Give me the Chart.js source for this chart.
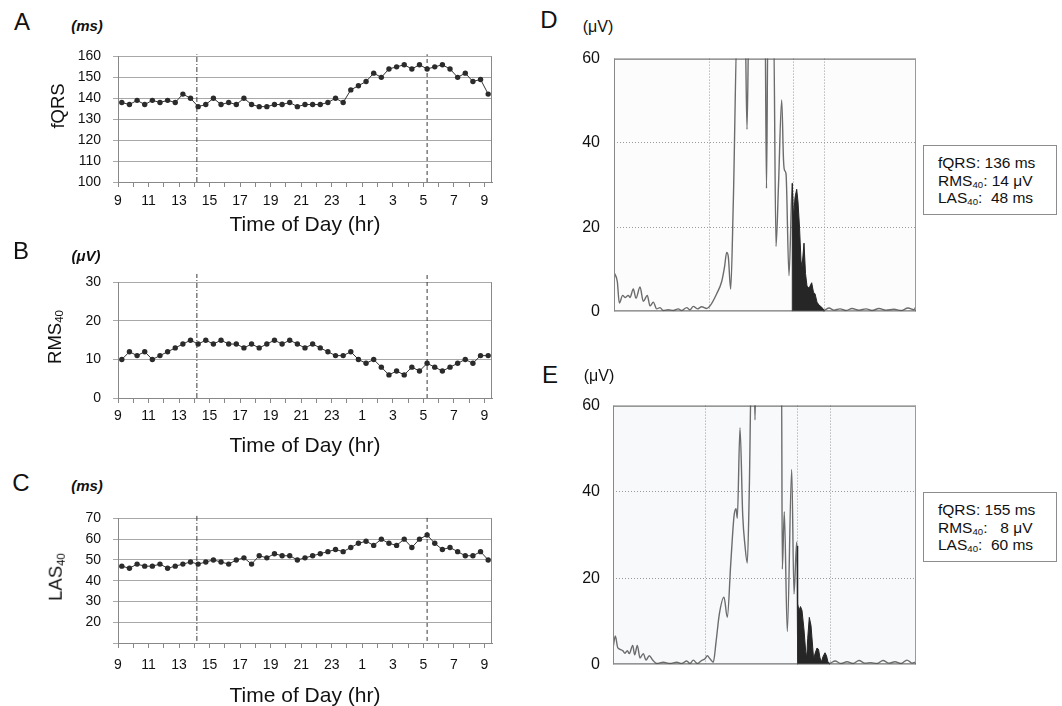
<!DOCTYPE html>
<html>
<head>
<meta charset="utf-8">
<script src="https://cdn.jsdelivr.net/npm/chart.js@4.4.1/dist/chart.umd.min.js"></script>
<style>
  body { margin: 0; background: #fff; font-family: 'Liberation Sans', Arial, sans-serif; color: #111; }
  #page { position: relative; width: 1062px; height: 706px; overflow: hidden; }
  canvas { position: absolute; }
  .lbl { position: absolute; transform: translate(-50%, -50%); white-space: nowrap; line-height: 1; }
  .panel { font-size: 24px; }
  .unit { font-size: 15px; font-weight: bold; font-style: italic; }
  .unit2 { font-size: 16px; }
  .ytitle { font-size: 18.5px; transform: translate(-50%, -50%) rotate(-90deg); }
  sub { font-size: 0.62em; vertical-align: -0.22em; line-height: 0; }
  .info { position: absolute; box-sizing: border-box; width: 134px; height: 70px; border: 1px solid #8c8c8c;
          font-size: 15.5px; line-height: 17.5px; padding: 8px 0 0 14px; white-space: nowrap; }
</style>
</head>
<body>
<div id="page">
  <canvas id="chartA" width="500" height="202" style="left:0;top:36px"></canvas>
  <canvas id="chartB" width="500" height="197" style="left:0;top:262px"></canvas>
  <canvas id="chartC" width="500" height="211" style="left:0;top:498px"></canvas>
  <canvas id="chartD" width="360" height="300" style="left:560px;top:35px"></canvas>
  <canvas id="chartE" width="360" height="304" style="left:560px;top:383px"></canvas>

  <div class="lbl panel" style="left:22px;top:22px">A</div>
  <div class="lbl unit" style="left:87px;top:25px">(ms)</div>
  <div class="lbl ytitle" style="left:58px;top:106px">fQRS</div>

  <div class="lbl panel" style="left:21px;top:251px">B</div>
  <div class="lbl unit" style="left:86px;top:255px">(μV)</div>
  <div class="lbl ytitle" style="left:55px;top:337px">RMS<sub>40</sub></div>

  <div class="lbl panel" style="left:21px;top:483px">C</div>
  <div class="lbl unit" style="left:87px;top:485px">(ms)</div>
  <div class="lbl ytitle" style="left:56px;top:577px">LAS<sub>40</sub></div>

  <div class="lbl panel" style="left:549px;top:20px">D</div>
  <div class="lbl unit2" style="left:598px;top:27px">(μV)</div>
  <div class="lbl panel" style="left:550px;top:375px">E</div>
  <div class="lbl unit2" style="left:599px;top:376px">(μV)</div>

  <div class="info" style="left:923px;top:145px">fQRS: 136 ms<br>RMS<sub>40</sub>: 14 μV<br>LAS<sub>40</sub>:&nbsp; 48 ms</div>
  <div class="info" style="left:923px;top:492px">fQRS: 155 ms<br>RMS<sub>40</sub>: &nbsp;&nbsp;8 μV<br>LAS<sub>40</sub>:&nbsp; 60 ms</div>
</div>

<script>
// data: half-hourly Holter samples, 9:15 to 9:15 next day
const sampleTimes = [
  '09:15','09:45','10:15','10:45','11:15','11:45','12:15','12:45','13:15','13:45',
  '14:15','14:45','15:15','15:45','16:15','16:45','17:15','17:45','18:15','18:45',
  '19:15','19:45','20:15','20:45','21:15','21:45','22:15','22:45','23:15','23:45',
  '00:15','00:45','01:15','01:45','02:15','02:45','03:15','03:45','04:15','04:45',
  '05:15','05:45','06:15','06:45','07:15','07:45','08:15','08:45','09:15'
];
const markerTimes = ['14:10', '05:15'];
const hourLabels = ['9','11','13','15','17','19','21','23','1','3','5','7','9'];

const fqrs = [138,137,139,137,139,138,139,138,142,140, 136,137,140,137,138,137,140,137,136,136,
              137,137,138,136,137,137,137,138,140,138, 144,146,148,152,150,154,155,156,154,156,
              154,155,156,154,150,152,148,149,142];
const rms40 = [10,12,11,12,10,11,12,13,14,15, 14,15,14,15,14,14,13,14,13,14,
               15,14,15,14,13,14,13,12,11,11, 12,10,9,10,8,6,7,6,8,7,
               9,8,7,8,9,10,9,11,11];
const las40 = [47,46,48,47,47,48,46,47,48,49, 48,49,50,49,48,50,51,48,52,51,
               53,52,52,50,51,52,53,54,55,54, 56,58,59,57,60,58,57,60,56,60,
               62,58,55,56,54,52,52,54,50];

// signal-averaged ECG traces (x in plot units, y in μV)
const dTraceX = [0.3,3.3,5.3,8.7,11,14.3,16,19.3,22,26,29.3,33.3,36,39.3,42.7,46,49.3,54.3,59.3,64.3,
  67.7,72.7,76,79.3,83.3,87.7,92.7,96,102.7,107.7,110.5,112.7,114.3,116.7,119.3,123.5,131,133,135,151,
  152.5,154,159.5,162,164.5,167.7,169.5,170.5,172,175,178.3,180,195,210,215,220,226,232,238,245,
  252,258,265,272,280,287,294,300,302];
const dTraceY = [9.1,7.1,2.0,3.8,3.3,3.8,3.3,5.3,3.1,5.8,2.4,3.8,1.3,2.2,0.6,0.9,0.2,0.4,0.2,0.6,
  0.2,0.9,0.4,1.2,0.6,1.1,0.7,1.3,4.2,7.1,10.5,14.0,13.0,5.3,25.9,70,70,43.2,70,70,
  29.2,70,70,15.4,30,50.2,36,33.5,32.7,8.5,30.4,0.5,0.3,0.3,0.8,0.3,0.6,0.2,0.7,0.3,
  0.6,0.2,0.7,0.3,0.5,0.2,0.8,0.4,1.2];
const dLateX = [178.3,178.3,179.5,181,182.7,184,185.5,187,188,190,191.5,193,195,197.7,199.5,201,203,205,207.7,210,210];
const dLateY = [0,30.4,22,27,29,26,20,12,10.5,16.2,9,6,5.5,6.8,4.5,4.2,2.2,1.5,1.0,0.3,0];
const dGridX = [95.5, 179.5, 210.5];

const eTraceX = [0.3,2.3,4.6,7,9.7,12,14.3,16.3,19.7,21.7,24.3,27,30.3,33,36.3,39.7,43.7,50.3,57,63.7,
  68.7,73.7,77,80.3,84.3,88.7,92,94.3,97,100.3,103,106.3,111,114.3,117.7,121,123,124.3,127,129.7,
  132,134.3,136.3,138.5,141,142,143,168.5,169.3,171.3,174.3,178.7,181,183.7,185,200,217,222,228,234,
  240,246,252,258,264,270,276,282,288,294,299,303];
const eTraceY = [4.2,6.6,4.0,3.5,3.2,2.6,3.2,2.5,4.4,2.2,4.4,1.5,2.5,1.0,2.0,1.0,0.2,0.5,0.2,0.5,
  0.2,0.8,0.2,1.0,0.2,0.9,1.3,2.0,1.3,0.5,5.1,11.6,15.6,10.9,23.2,34.3,36.1,33.9,54.9,34.7,
  27.5,23.5,40.5,70,70,56.7,70,70,22.1,35.4,7.6,45.2,16.3,28.4,1,0.3,0.3,0.8,0.2,0.6,
  0.2,0.9,0.3,0.4,0.2,0.9,0.3,0.6,0.2,1.0,0.3,0.6];
const eLateX = [184.3,184.3,185,186,187.5,189,191,192.7,193.7,194.7,196.3,198,199.7,200.7,202,204,205.5,207,208.5,210,212,213.5,215,216.5,216.5];
const eLateY = [0,27.5,14,12.5,13.4,12.5,8,3,1.5,6,10.9,9,4,1,2.5,3.8,3.5,1.5,0.6,1.8,2.7,2,0.5,0.2,0];
const eGridX = [92.7, 184.7, 217];

Chart.defaults.font.family = "'Liberation Sans', Arial, sans-serif";
Chart.defaults.color = '#111';

function clockToHours(t) {
  const [h, m] = t.split(':').map(Number);
  return (h + m / 60 - 9 + 24) % 24;
}

// unwrap past the next morning so the axis keeps running
const sampleHours = [];
sampleTimes.forEach((t, i) => {
  let h = clockToHours(t);
  if (i > 0 && h < sampleHours[i - 1]) h += 24;
  sampleHours.push(h);
});

// plot background + border lines
const frame = {
  id: 'frame',
  beforeDraw(chart, args, opts) {
    if (!opts.bg) return;
    const a = chart.chartArea, ctx = chart.ctx;
    ctx.save();
    ctx.fillStyle = opts.bg;
    ctx.fillRect(a.left, a.top, a.right - a.left, a.bottom - a.top);
    ctx.restore();
  },
  afterDraw(chart, args, opts) {
    const a = chart.chartArea, ctx = chart.ctx;
    const side = (c, x1, y1, x2, y2) => {
      if (!c) return;
      ctx.beginPath();
      ctx.strokeStyle = c;
      ctx.lineWidth = 1;
      ctx.moveTo(x1, y1);
      ctx.lineTo(x2, y2);
      ctx.stroke();
    };
    ctx.save();
    side(opts.top, a.left, a.top + 0.5, a.right, a.top + 0.5);
    side(opts.right, a.right - 0.5, a.top, a.right - 0.5, a.bottom);
    side(opts.bottom, a.left, a.bottom - 0.5, a.right, a.bottom - 0.5);
    side(opts.left, a.left + 0.5, a.top, a.left + 0.5, a.bottom);
    ctx.restore();
  }
};

function trendChart(id, values, y, axis) {
  const series = values.map((v, i) => ({ x: sampleHours[i], y: v }));
  const refs = markerTimes.map((t, k) => ({
    data: [{ x: clockToHours(t), y: y.lineFrom }, { x: clockToHours(t), y: y.lineTo }],
    borderColor: '#3a3a3a',
    borderWidth: 1,
    borderDash: k === 0 ? [5, 2, 1, 2] : [4, 3],
    pointRadius: 0,
    clip: false
  }));
  return new Chart(document.getElementById(id), {
    type: 'line',
    data: {
      datasets: [{
        data: series,
        borderColor: '#333',
        borderWidth: 1,
        pointRadius: 2.7,
        pointBorderWidth: 0,
        pointBackgroundColor: '#2b2b2b'
      }, ...refs]
    },
    options: {
      responsive: false,
      animation: false,
      devicePixelRatio: 1,
      layout: { padding: { top: 16, right: 8, left: 0, bottom: 0 } },
      plugins: { legend: { display: false }, tooltip: { enabled: false }, frame: { right: '#888' } },
      scales: {
        x: {
          type: 'linear', min: 0, max: 24.5,
          afterFit: s => { s.height = axis.height; },
          ticks: {
            stepSize: 1, includeBounds: false, autoSkip: false, maxRotation: 0,
            padding: axis.pad, color: '#111', font: { size: 14 },
            callback: v => (v % 2 === 0 ? hourLabels[v / 2] : '')
          },
          grid: { drawOnChartArea: false, color: '#888', tickLength: 5 },
          border: { color: '#888' },
          title: { display: true, text: 'Time of Day (hr)', color: '#111', font: { size: 21 }, padding: { top: 0, bottom: 0 } }
        },
        y: {
          min: y.min, max: y.max,
          afterFit: s => { s.width = 118; },
          ticks: {
            stepSize: y.step, padding: 12, color: '#111', font: { size: 14 },
            callback: v => (v === y.hide ? '' : v)
          },
          grid: { color: '#a8a8a8', tickLength: 5 },
          border: { color: '#888' }
        }
      }
    },
    plugins: [frame]
  });
}

function signalChart(id, tr, late, gridX, view) {
  return new Chart(document.getElementById(id), {
    type: 'line',
    data: {
      datasets: [{
        data: late.x.map((x, i) => ({ x: x, y: late.y[i] })),
        borderColor: '#262626',
        backgroundColor: '#262626',
        borderWidth: 1,
        fill: 'origin',
        pointRadius: 0
      }, {
        data: tr.x.map((x, i) => ({ x: x, y: tr.y[i] })),
        borderColor: '#6c6c6c',
        borderWidth: 1.4,
        cubicInterpolationMode: 'monotone',
        pointRadius: 0
      }]
    },
    options: {
      responsive: false,
      animation: false,
      devicePixelRatio: 1,
      layout: { padding: { top: 15, right: 4, left: 0, bottom: 10 } },
      plugins: {
        legend: { display: false },
        tooltip: { enabled: false },
        frame: { bg: view.bg, top: '#555', bottom: '#555', left: '#888', right: '#9a9a9a' }
      },
      scales: {
        x: {
          type: 'linear', min: 0, max: view.xMax,
          afterFit: s => { s.height = 0; },
          afterBuildTicks: s => { s.ticks = gridX.map(v => ({ value: v })); },
          ticks: { display: false },
          grid: { color: '#9a9a9a', drawTicks: false },
          border: { display: false, dash: [1, 2] }
        },
        y: {
          min: 0, max: 60,
          afterFit: s => { s.width = view.axisW; },
          ticks: { stepSize: 20, padding: view.pad, color: '#111', font: { size: 16 } },
          grid: {
            drawTicks: false,
            color: c => (c.tick.value === 0 || c.tick.value === 60 ? 'rgba(0,0,0,0)' : '#9a9a9a')
          },
          border: { display: false, dash: [1, 2] }
        }
      }
    },
    plugins: [frame]
  });
}

trendChart('chartA', fqrs, { min: 100, max: 160, step: 10, lineFrom: 100, lineTo: 161 }, { height: 56, pad: 5.6 });
trendChart('chartB', rms40, { min: 0, max: 30, step: 5, lineFrom: 0, lineTo: 32.2 }, { height: 61, pad: 5 });
trendChart('chartC', las40, { min: 10, max: 70, step: 10, hide: 10, lineFrom: 11, lineTo: 71.5 }, { height: 66, pad: 8.3 });

signalChart('chartD', { x: dTraceX, y: dTraceY }, { x: dLateX, y: dLateY }, dGridX,
  { xMax: 302, axisW: 54, pad: 14, bg: '#fcfcfc' });
signalChart('chartE', { x: eTraceX, y: eTraceY }, { x: eLateX, y: eLateY }, eGridX,
  { xMax: 303, axisW: 53, pad: 13, bg: '#f7f9fb' });
</script>
</body>
</html>
